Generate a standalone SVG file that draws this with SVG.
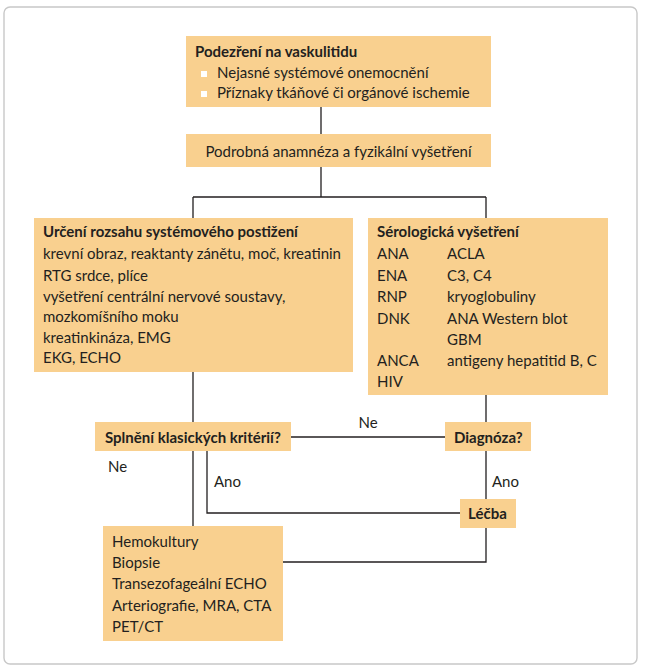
<svg xmlns="http://www.w3.org/2000/svg" width="646" height="671" viewBox="0 0 646 671">
<style>
.box{fill:#f9d08f}
text{font-family:Lato,"Liberation Sans",sans-serif;font-size:15px;fill:#231f20}
.b{font-weight:bold}
.ln{stroke:#231f20;stroke-width:1.3;fill:none}
.bul{fill:#ffffff}
</style>
<rect x="4" y="7" width="633" height="657" rx="6" fill="#ffffff" stroke="#c8c8c8" stroke-width="1.4"/>
<g id="connectors">
<path class="ln" d="M321,107V134M321,167V197M193,197H486M193,197V218M486,197V218"/>
<path class="ln" d="M193,372V526"/>
<path class="ln" d="M486,395V422M486,451V499M486,528V562H283"/>
<path class="ln" d="M291,437H445"/>
<path class="ln" d="M207,451V513H460"/>
<text x="368" y="428" text-anchor="middle">Ne</text>
<text x="108" y="472">Ne</text>
<text x="214" y="487">Ano</text>
<text x="492" y="487">Ano</text>
</g>
<g id="suspicion">
<rect class="box" x="186" y="36" width="305" height="71"/>
<text class="b" x="195" y="57">Podezření na vaskulitidu</text>
<rect class="bul" x="201" y="71" width="6" height="6"/>
<rect class="bul" x="201" y="91" width="6" height="6"/>
<text x="217" y="78">Nejasné systémové onemocnění</text>
<text x="217" y="98">Příznaky tkáňové či orgánové ischemie</text>
</g>
<g id="anamnesis">
<rect class="box" x="186" y="134" width="305" height="33"/>
<text x="338.5" y="157" text-anchor="middle">Podrobná anamnéza a fyzikální vyšetření</text>
</g>
<g id="extent">
<rect class="box" x="34" y="218" width="319" height="154"/>
<text class="b" x="43" y="237">Určení rozsahu systémového postižení</text>
<text x="43" y="259">krevní obraz, reaktanty zánětu, moč, kreatinin</text>
<text x="43" y="281">RTG srdce, plíce</text>
<text x="43" y="302">vyšetření centrální nervové soustavy,</text>
<text x="43" y="322">mozkomíšního moku</text>
<text x="43" y="343">kreatinkináza, EMG</text>
<text x="43" y="363">EKG, ECHO</text>
</g>
<g id="serology">
<rect class="box" x="368" y="218" width="240" height="177"/>
<text class="b" x="377" y="237">Sérologická vyšetření</text>
<text x="377" y="259">ANA</text><text x="447" y="259">ACLA</text>
<text x="377" y="281">ENA</text><text x="447" y="281">C3, C4</text>
<text x="377" y="302">RNP</text><text x="447" y="302">kryoglobuliny</text>
<text x="377" y="324">DNK</text><text x="447" y="324">ANA Western blot</text>
<text x="447" y="345">GBM</text>
<text x="377" y="366">ANCA</text><text x="447" y="366">antigeny hepatitid B, C</text>
<text x="377" y="387">HIV</text>
</g>
<g id="criteria">
<rect class="box" x="95" y="422" width="196" height="29"/>
<text class="b" x="105" y="443">Splnění klasických kritérií?</text>
</g>
<g id="diagnosis">
<rect class="box" x="445" y="422" width="86" height="29"/>
<text class="b" x="454" y="443">Diagnóza?</text>
</g>
<g id="treatment">
<rect class="box" x="460" y="499" width="56" height="29"/>
<text class="b" x="468" y="519">Léčba</text>
</g>
<g id="further">
<rect class="box" x="103" y="526" width="180" height="115"/>
<text x="112" y="547">Hemokultury</text>
<text x="112" y="568">Biopsie</text>
<text x="112" y="589">Transezofageální ECHO</text>
<text x="112" y="611">Arteriografie, MRA, CTA</text>
<text x="112" y="632">PET/CT</text>
</g>
</svg>
